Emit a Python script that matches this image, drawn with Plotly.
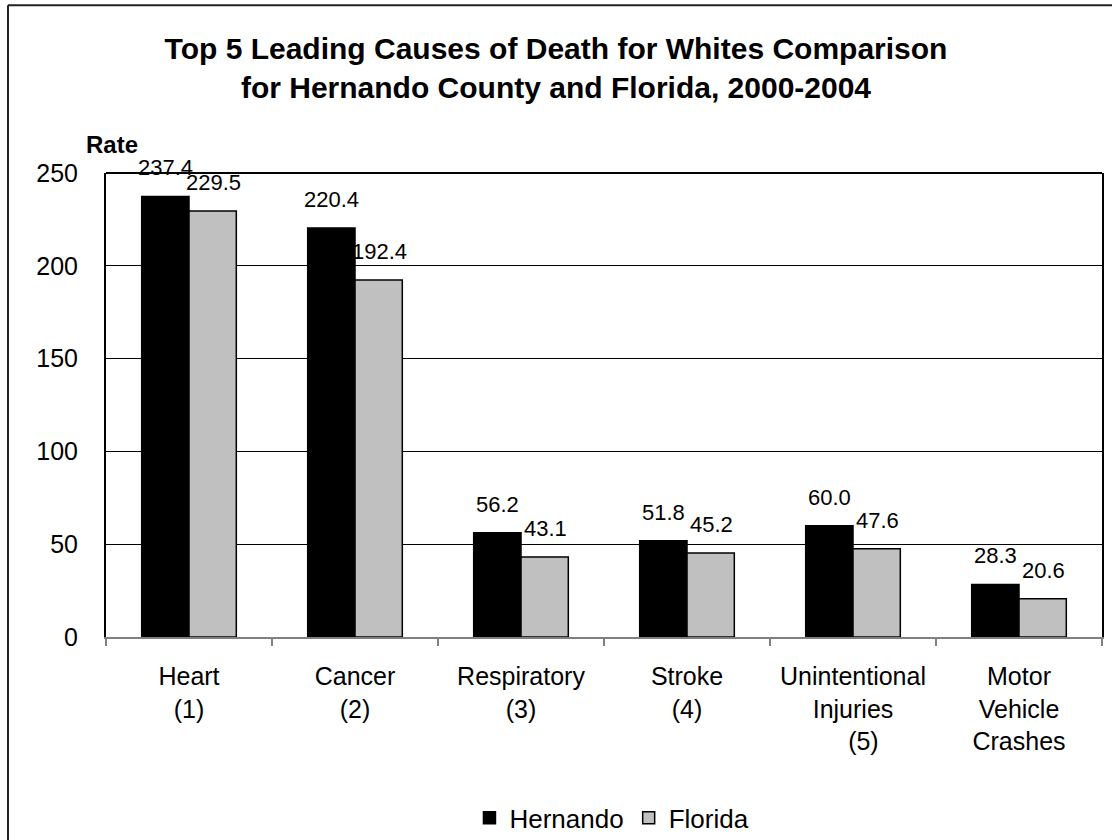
"""Top 5 leading causes of death - Hernando vs Florida"""

import plotly.graph_objects as go

CATEGORIES = [
    "Heart<br>(1)",
    "Cancer<br>(2)",
    "Respiratory<br>(3)",
    "Stroke<br>(4)",
    "Unintentional<br>Injuries<br>\u00a0\u00a0\u00a0(5)",
    "Motor<br>Vehicle<br>Crashes",
]
HERNANDO = [237.4, 220.4, 56.2, 51.8, 60.0, 28.3]
FLORIDA = [229.5, 192.4, 43.1, 45.2, 47.6, 20.6]
Y_TICKS = [0, 50, 100, 150, 200, 250]

FONT = "Arial, 'Liberation Sans', sans-serif"
SERIES = [
    ("Hernando", HERNANDO, "#000000", -24),
    ("Florida", FLORIDA, "#C0C0C0", 24),
]

fig = go.Figure()
for name, vals, color, _ in SERIES:
    fig.add_trace(go.Bar(
        x=CATEGORIES, y=vals, name=name,
        marker=dict(color=color, line=dict(color="#000000", width=1.5)),
    ))

# 値ラベルはバーの少し上に置く
annotations = []
for name, vals, color, shift in SERIES:
    for cat, v in zip(CATEGORIES, vals):
        annotations.append(dict(
            x=cat, y=v, xref="x", yref="y", text=f"{v:.1f}",
            showarrow=False, xshift=shift, yshift=14, yanchor="bottom",
            font=dict(family=FONT, size=22, color="#000000"),
        ))

annotations.append(dict(
    x=0.006, y=1.027, xref="paper", yref="paper", text="<b>Rate</b>",
    showarrow=False, xanchor="center", yanchor="bottom",
    font=dict(family=FONT, size=24, color="#000000"),
))

# 外枠（左と上だけ画面内に見える）
FRAME_L, FRAME_T = -0.0984, 1.3615
shapes = [
    dict(type="line", xref="paper", yref="paper",
         x0=FRAME_L, x1=FRAME_L, y0=-0.6, y1=FRAME_T,
         line=dict(color="#222222", width=2)),
    dict(type="line", xref="paper", yref="paper",
         x0=FRAME_L, x1=1.1, y0=FRAME_T, y1=FRAME_T,
         line=dict(color="#222222", width=2)),
    # プロット上辺
    dict(type="line", xref="paper", yref="paper",
         x0=0, x1=1, y0=1, y1=1, line=dict(color="#000000", width=2)),
]

fig.update_layout(
    width=1112, height=840,
    font=dict(family=FONT, size=24, color="#000000"),
    plot_bgcolor="white", paper_bgcolor="white",
    margin=dict(l=106, r=10, t=173, b=203, autoexpand=False),
    title=dict(
        text="<b>Top 5 Leading Causes of Death for Whites Comparison<br>for Hernando County and Florida, 2000-2004</b>",
        font=dict(family=FONT, size=30, color="#000000"),
        x=0.5, xref="container", xanchor="center",
        y=0.93, yref="container", yanchor="top",
    ),
    barmode="group",
    bargap=0.43,
    bargroupgap=0,
    xaxis=dict(
        automargin=False,
        showline=True, linecolor="#808080", linewidth=2,
        ticks="outside", tickson="boundaries", ticklen=7, tickcolor="#808080", tickwidth=2,
        showgrid=False, tickfont=dict(family=FONT, size=25),
        ticklabelstandoff=16,
    ),
    yaxis=dict(
        automargin=False,
        range=[0, 250], tickvals=Y_TICKS,
        showline=True, linecolor="#000000", linewidth=2, mirror=True,
        showgrid=True, gridcolor="#000000", gridwidth=1,
        zeroline=False, ticks="", ticklabelstandoff=21,
        tickfont=dict(family=FONT, size=25),
    ),
    legend=dict(
        orientation="h", x=0.508, xanchor="center", y=-0.39, yanchor="middle",
        font=dict(family=FONT, size=26), bgcolor="rgba(0,0,0,0)",
    ),
    annotations=annotations,
    shapes=shapes,
)
fig.update_traces(cliponaxis=False)

# ページの既定余白とスクロールバーをなくしてウィンドウ左上に合わせる
fig.write_html(
    "out.html",
    config={"displayModeBar": False},
    post_script=(
        "document.body.style.margin='0';"
        "document.body.style.overflow='hidden';"
        "document.documentElement.style.overflow='hidden';"
    ),
)
